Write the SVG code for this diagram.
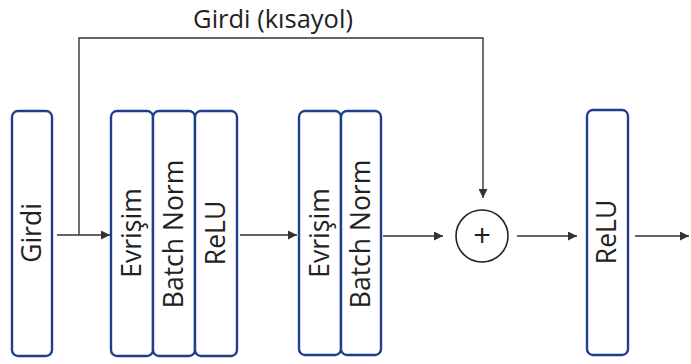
<svg xmlns="http://www.w3.org/2000/svg" width="691" height="364" viewBox="0 0 691 364">
<defs>
<style>
.box{fill:#fff;stroke:#1d3f8c;stroke-width:2.4}
.lbl{font-family:"Open Sans","DejaVu Sans",sans-serif;font-size:26.5px;fill:#222;text-anchor:middle}
.ln{fill:none;stroke:#333;stroke-width:1.4}
</style>
<marker id="ah" viewBox="0 0 10 10" refX="10" refY="5" markerWidth="9" markerHeight="9" markerUnits="userSpaceOnUse" orient="auto"><path d="M0,0 L10,5 L0,10 z" fill="#333"/></marker>
</defs>
<rect width="691" height="364" fill="#fff"/>
<g id="connectors">
<path class="ln" d="M57,235 H110" marker-end="url(#ah)"/>
<path class="ln" d="M79,235 V38 H483 V198" marker-end="url(#ah)"/>
<path class="ln" d="M240,235 H297" marker-end="url(#ah)"/>
<path class="ln" d="M383,236 H443" marker-end="url(#ah)"/>
<path class="ln" d="M517,236 H577" marker-end="url(#ah)"/>
<path class="ln" d="M635,236 H689" marker-end="url(#ah)"/>
<text class="lbl" x="273" y="28" style="font-size:25.5px">Girdi (kısayol)</text>
</g>
<g id="girdi"><rect class="box" x="12" y="111" width="40" height="245" rx="6"/><text class="lbl" transform="translate(41,233) rotate(-90)">Girdi</text></g>
<g id="evrisim1"><rect class="box" x="111" y="111" width="42" height="245" rx="6"/><text class="lbl" transform="translate(141,233) rotate(-90)">Evrişim</text></g>
<g id="bn1"><rect class="box" x="153" y="111" width="42" height="245" rx="6"/><text class="lbl" transform="translate(183,234) rotate(-90)">Batch Norm</text></g>
<g id="relu1"><rect class="box" x="195" y="111" width="42" height="245" rx="6"/><text class="lbl" transform="translate(225,233) rotate(-90)">ReLU</text></g>
<g id="evrisim2"><rect class="box" x="299" y="111" width="42" height="244" rx="6"/><text class="lbl" transform="translate(329,233) rotate(-90)">Evrişim</text></g>
<g id="bn2"><rect class="box" x="341" y="111" width="40" height="244" rx="6"/><text class="lbl" transform="translate(370,234) rotate(-90)">Batch Norm</text></g>
<g id="add"><circle cx="482" cy="236" r="26" fill="#fff" stroke="#222" stroke-width="1.6"/><text class="lbl" x="482" y="247" style="font-size:31px">+</text></g>
<g id="relu2"><rect class="box" x="587" y="110" width="41" height="245" rx="6"/><text class="lbl" transform="translate(616,232) rotate(-90)">ReLU</text></g>
</svg>
